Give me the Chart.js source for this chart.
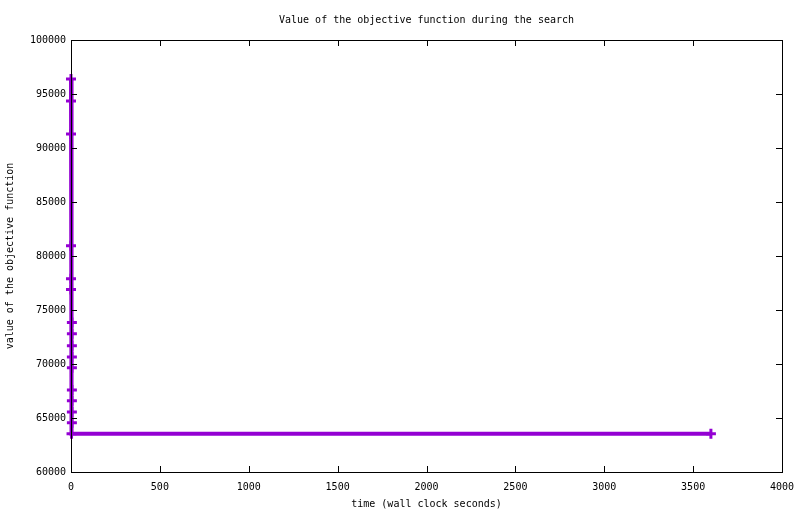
<!DOCTYPE html>
<html lang="en">
  <head>
    <meta charset="UTF-8" />
    <title>Objective function</title>
    <script src="https://cdn.jsdelivr.net/npm/chart.js"></script>
    <style>
      html, body { margin: 0; padding: 0; background: #fff; }
      #wrap { width: 800px; height: 514px; }
    </style>
  </head>
  <body>
    <div id="wrap"><canvas id="myChart"></canvas></div>
    <script>
      // times (wall clock seconds) and objective values
      const times = [0, 0, 0, 0, 0, 0, 0, 5, 5, 5, 5, 5, 5, 5, 5, 5, 3, 3600];
      const values = [96400, 94350, 91300, 80950, 77900, 76900, 75200, 73850, 72800, 71700,
                      70650, 69650, 67600, 66600, 65550, 64550, 63550, 63550];
      const markerVals = [96400, 94350, 91300, 80950, 77900, 76900, 73850, 72800, 71700,
                          70650, 69650, 67600, 66600, 65550, 64550, 63550, 63550];
      const xTicks = [0, 500, 1000, 1500, 2000, 2500, 3000, 3500, 4000];
      const yTicks = [60000, 65000, 70000, 75000, 80000, 85000, 90000, 95000, 100000];

      const purple = '#9400d3';
      const font = { family: 'DejaVu Sans Mono', size: 10, weight: 'normal' };

      const pts = times.map((t, i) => ({ x: t, y: values[i] }));
      const pointRadius = values.map(v => markerVals.includes(v) ? 5 : 0);

      // gnuplot style frame with inward ticks on all sides
      const frame = {
        id: 'frame',
        afterDraw(chart) {
          const { ctx, chartArea: a, scales } = chart;
          ctx.save();
          ctx.strokeStyle = '#000';
          ctx.lineWidth = 1;
          ctx.beginPath();
          xTicks.forEach(v => {
            const px = Math.round(scales.x.getPixelForValue(v)) + 0.5;
            ctx.moveTo(px, a.bottom); ctx.lineTo(px, a.bottom - 6);
            ctx.moveTo(px, a.top); ctx.lineTo(px, a.top + 6);
          });
          yTicks.forEach(v => {
            const py = Math.round(scales.y.getPixelForValue(v)) + 0.5;
            ctx.moveTo(a.left, py); ctx.lineTo(a.left + 6, py);
            ctx.moveTo(a.right, py); ctx.lineTo(a.right - 6, py);
          });
          ctx.stroke();
          ctx.strokeRect(Math.round(a.left) + 0.5, Math.round(a.top) + 0.5,
                         Math.round(a.right - a.left), Math.round(a.bottom - a.top));
          ctx.restore();
        }
      };

      const ctx = document.getElementById('myChart').getContext('2d');
      new Chart(ctx, {
        type: 'line',
        data: {
          datasets: [{
            data: pts,
            borderColor: purple,
            backgroundColor: purple,
            borderWidth: 4,
            pointStyle: 'cross',
            pointRadius: pointRadius,
            pointBorderWidth: 3,
            pointBorderColor: purple,
            tension: 0,
            clip: false
          }]
        },
        options: {
          responsive: true,
          maintainAspectRatio: false,
          animation: false,
          layout: { padding: { left: 0, right: 18, top: 0, bottom: 0 } },
          plugins: {
            legend: { display: false },
            tooltip: { enabled: false },
            title: { display: false }
          },
          scales: {
            // top axis only carries the plot title, centred over the plot area
            top: {
              type: 'linear',
              position: 'top',
              min: 0,
              max: 4000,
              afterFit: s => { s.height = 40; s.paddingLeft = 0; s.paddingRight = 0; },
              grid: { display: false, drawTicks: false },
              border: { display: false },
              ticks: { display: false },
              title: {
                display: true,
                text: 'Value of the objective function during the search',
                color: '#000',
                font: font,
                padding: { top: 14, bottom: 0 }
              }
            },
            x: {
              type: 'linear',
              min: 0,
              max: 4000,
              afterFit: s => { s.height = 42; s.paddingLeft = 0; s.paddingRight = 0; },
              afterBuildTicks: s => { s.ticks = xTicks.map(v => ({ value: v })); },
              grid: { display: false, drawTicks: false },
              border: { display: false },
              ticks: { color: '#000', font: font, padding: 9, maxRotation: 0, callback: v => String(v) },
              title: {
                display: true,
                text: 'time (wall clock seconds)',
                color: '#000',
                font: font,
                padding: 4
              }
            },
            y: {
              type: 'linear',
              min: 60000,
              max: 100000,
              afterFit: s => { s.width = 71; },
              afterBuildTicks: s => { s.ticks = yTicks.map(v => ({ value: v })); },
              grid: { display: false, drawTicks: false },
              border: { display: false },
              ticks: { color: '#000', font: font, padding: 5, callback: v => String(v) },
              title: {
                display: true,
                text: 'value of the objective function',
                color: '#000',
                font: font,
                padding: 4
              }
            }
          }
        },
        plugins: [frame]
      });
    </script>
  </body>
</html>
